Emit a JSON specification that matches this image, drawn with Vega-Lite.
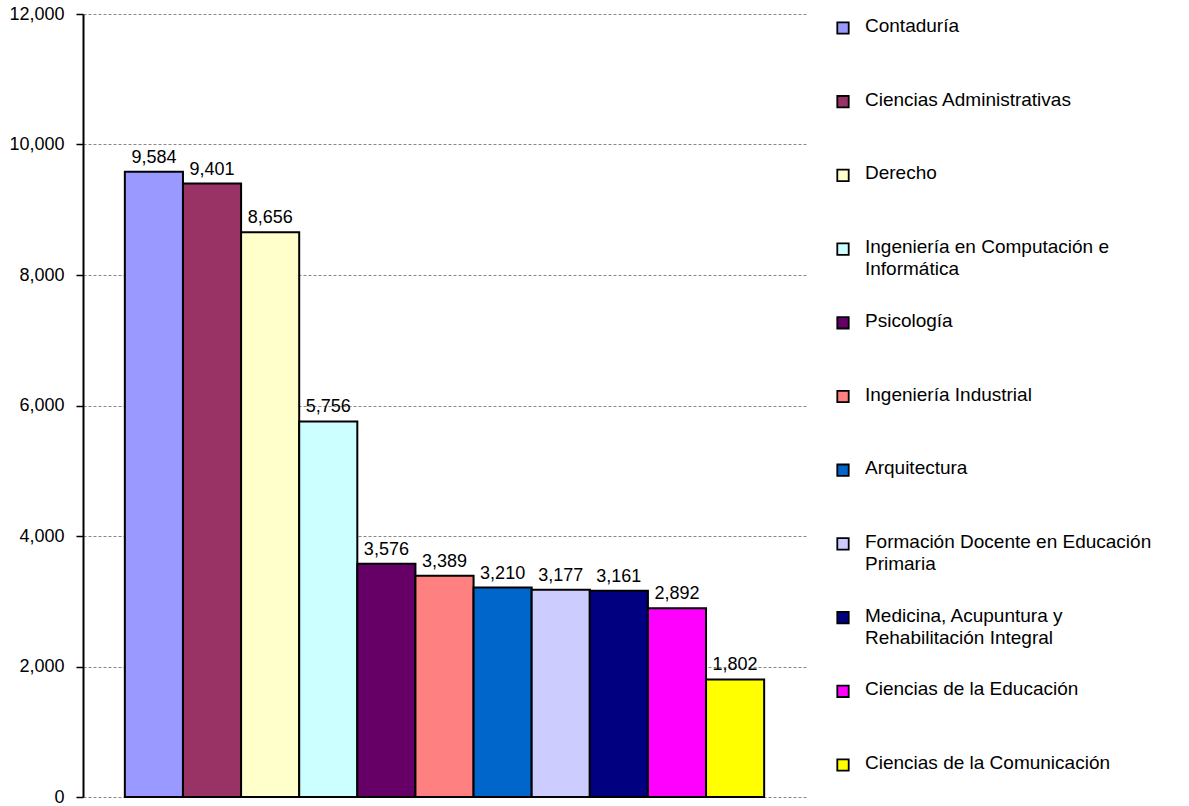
{
  "$schema": "https://vega.github.io/schema/vega-lite/v6.json",
  "background": "white",
  "padding": {"left": 8, "top": 5, "right": 0, "bottom": 0},
  "config": {"view": {"stroke": null}, "font": "Liberation Sans", "concat": {"spacing": 27}},
  "data": {"values": [
    {"carrera": "Contaduría", "leyenda": "Contaduría", "alumnos": 9584},
    {"carrera": "Ciencias Administrativas", "leyenda": "Ciencias Administrativas", "alumnos": 9401},
    {"carrera": "Derecho", "leyenda": "Derecho", "alumnos": 8656},
    {"carrera": "Ingeniería en Computación e Informática", "leyenda": "Ingeniería en Computación e\nInformática", "alumnos": 5756},
    {"carrera": "Psicología", "leyenda": "Psicología", "alumnos": 3576},
    {"carrera": "Ingeniería Industrial", "leyenda": "Ingeniería Industrial", "alumnos": 3389},
    {"carrera": "Arquitectura", "leyenda": "Arquitectura", "alumnos": 3210},
    {"carrera": "Formación Docente en Educación Primaria", "leyenda": "Formación Docente en Educación\nPrimaria", "alumnos": 3177},
    {"carrera": "Medicina, Acupuntura y Rehabilitación Integral", "leyenda": "Medicina, Acupuntura y\nRehabilitación Integral", "alumnos": 3161},
    {"carrera": "Ciencias de la Educación", "leyenda": "Ciencias de la Educación", "alumnos": 2892},
    {"carrera": "Ciencias de la Comunicación", "leyenda": "Ciencias de la Comunicación", "alumnos": 1802}
  ]},
  "hconcat": [
    {
      "width": 723,
      "height": 783,
      "encoding": {
        "x": {"field": "carrera", "type": "nominal", "sort": null, "axis": null, "scale": {"paddingInner": 0, "paddingOuter": 0.72}},
        "y": {"field": "alumnos", "type": "quantitative", "scale": {"domain": [0, 12000], "nice": false},
          "axis": {"values": [0, 2000, 4000, 6000, 8000, 10000, 12000], "format": ",d", "title": null,
            "labelFontSize": 18, "labelColor": "black", "labelPadding": 12,
            "domainColor": "black", "domainWidth": 2, "tickColor": "black", "tickSize": 7, "tickWidth": 1.5,
            "gridColor": "#888888", "gridDash": [3, 2], "gridWidth": 1}}
      },
      "layer": [
        {"mark": {"type": "bar", "stroke": "black", "strokeWidth": 2, "opacity": 1},
         "encoding": {"color": {"field": "carrera", "type": "nominal", "sort": null, "legend": null,
           "scale": {"domain": ["Contaduría", "Ciencias Administrativas", "Derecho", "Ingeniería en Computación e Informática", "Psicología", "Ingeniería Industrial", "Arquitectura", "Formación Docente en Educación Primaria", "Medicina, Acupuntura y Rehabilitación Integral", "Ciencias de la Educación", "Ciencias de la Comunicación"],
                     "range": ["#9999FF", "#993366", "#FFFFCC", "#CCFFFF", "#660066", "#FF8080", "#0066CC", "#CCCCFF", "#000080", "#FF00FF", "#FFFF00"]}}}},
        {"mark": {"type": "text", "baseline": "bottom", "dy": -5, "fontSize": 18, "color": "black"},
         "encoding": {"text": {"field": "alumnos", "type": "quantitative", "format": ","}}}
      ]
    },
    {
      "width": 0,
      "height": 765,
      "encoding": {
        "y": {"field": "carrera", "type": "nominal", "sort": null, "axis": null, "scale": {"type": "point", "padding": 0.19}}
      },
      "layer": [
        {"mark": {"type": "point", "shape": "square", "filled": true, "size": 130, "stroke": "black", "strokeWidth": 1.8, "opacity": 1},
         "encoding": {"color": {"field": "carrera", "type": "nominal", "sort": null, "legend": null}}},
        {"mark": {"type": "text", "align": "left", "baseline": "top", "dx": 22, "dy": -11, "fontSize": 19, "lineBreak": "\n", "lineHeight": 22, "color": "black"},
         "encoding": {"text": {"field": "leyenda", "type": "nominal"}}}
      ]
    }
  ]
}
